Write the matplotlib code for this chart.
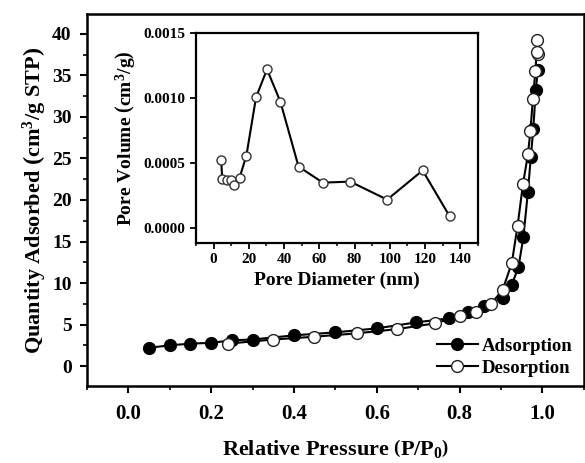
import matplotlib

matplotlib.use("Agg")
import matplotlib.pyplot as plt  # noqa: E402
from matplotlib.ticker import MultipleLocator  # noqa: E402

plt.rcParams["font.family"] = "Liberation Serif"
plt.rcParams["font.weight"] = "bold"
plt.rcParams["axes.labelweight"] = "bold"
plt.rcParams["mathtext.fontset"] = "custom"
plt.rcParams["mathtext.rm"] = "Liberation Serif:bold"
plt.rcParams["mathtext.bf"] = "Liberation Serif:bold"
plt.rcParams["mathtext.it"] = "Liberation Serif:bold"

# N2 isotherm
ads_p = [0.05, 0.10, 0.15, 0.20, 0.25, 0.30, 0.40, 0.50, 0.60, 0.695, 0.775,
         0.82, 0.858, 0.904, 0.926, 0.942, 0.954, 0.965, 0.972, 0.978, 0.984, 0.989]
ads_q = [2.2, 2.5, 2.7, 2.8, 3.1, 3.2, 3.7, 4.06, 4.54, 5.26, 5.75,
         6.55, 7.2, 8.23, 9.8, 11.9, 15.5, 21.0, 25.2, 28.6, 33.3, 35.7]

des_p = [0.990, 0.987, 0.986, 0.983, 0.977, 0.971, 0.965, 0.953, 0.940, 0.926,
         0.904, 0.876, 0.84, 0.80, 0.74, 0.649, 0.551, 0.448, 0.35, 0.24]
des_q = [37.6, 39.3, 37.8, 35.5, 32.2, 28.3, 25.5, 21.9, 16.9, 12.4,
         9.2, 7.47, 6.5, 6.02, 5.14, 4.45, 3.94, 3.53, 3.2, 2.7]

# BJH pore size distribution (inset)
pore_d = [4.3, 4.9, 7.7, 9.6, 11.7, 14.7, 18.6, 24.1, 30.3, 37.9, 48.2,
          62.0, 77.5, 98.5, 118.6, 134.0]
pore_v = [0.000518, 0.000375, 0.000369, 0.000364, 0.000328, 0.000382, 0.000554,
          0.001005, 0.00122, 0.00097, 0.00047, 0.000346, 0.000354, 0.000215,
          0.00044, 0.000085]

fig = plt.figure(figsize=(5.85, 4.63), dpi=100)
ax = fig.add_axes([0.1487, 0.1663, 0.8493, 0.8035])

ax.plot(ads_p, ads_q, color="black", linewidth=1.5, marker="o", markersize=8.5,
        markerfacecolor="black", markeredgecolor="black", label="Adsorption", zorder=3)
ax.plot(des_p, des_q, color="black", linewidth=1.5, marker="o", markersize=8.5,
        markerfacecolor="white", markeredgecolor="#222222", label="Desorption", zorder=4)

ax.set_xlim(-0.1, 1.1)
ax.set_ylim(-2.4, 42.4)
ax.xaxis.set_major_locator(MultipleLocator(0.2))
ax.xaxis.set_minor_locator(MultipleLocator(0.1))
ax.yaxis.set_major_locator(MultipleLocator(5))
ax.yaxis.set_minor_locator(MultipleLocator(2.5))
ax.tick_params(which="major", direction="out", length=5, width=1.5, labelsize=14, pad=6)
ax.tick_params(which="minor", direction="out", length=3, width=1.2)
ax.tick_params(axis="x", pad=8, labelsize=15)
for s in ax.spines.values():
    s.set_linewidth(1.8)
ax.set_xlabel(r"Relative Pressure $\left(\mathrm{P/P_0}\right)$", fontsize=16, labelpad=9)
ax.set_ylabel(r"Quantity Adsorbed $\left(\mathrm{cm^3/g\ STP}\right)$", fontsize=16, labelpad=3)
ax.legend(loc="lower right", frameon=False, fontsize=13.5, handlelength=2.2,
          handletextpad=0.2, borderaxespad=0.2, labelspacing=0.25,
          bbox_to_anchor=(1.0, -0.005))

ins = fig.add_axes([0.335, 0.475, 0.482, 0.4537])
ins.plot(pore_d, pore_v, color="black", linewidth=1.5, marker="o", markersize=6.5,
         markerfacecolor="white", markeredgecolor="#333333")
ins.set_xlim(-10, 150)
ins.set_ylim(-0.00012, 0.0015)
ins.xaxis.set_major_locator(MultipleLocator(20))
ins.xaxis.set_minor_locator(MultipleLocator(10))
ins.set_yticks([0.0, 0.0005, 0.0010, 0.0015])
ins.set_yticklabels(["0.0000", "0.0005", "0.0010", "0.0015"])
ins.tick_params(which="major", direction="out", length=4, width=1.3, labelsize=11)
ins.tick_params(which="minor", direction="out", length=2.5, width=1.1)
for s in ins.spines.values():
    s.set_linewidth(1.6)
ins.set_xlabel("Pore Diameter (nm)", fontsize=14, labelpad=4)
ins.set_ylabel(r"Pore Volume $\left(\mathrm{cm^3/g}\right)$", fontsize=14, labelpad=4)

fig.savefig("out.png", dpi=100)
